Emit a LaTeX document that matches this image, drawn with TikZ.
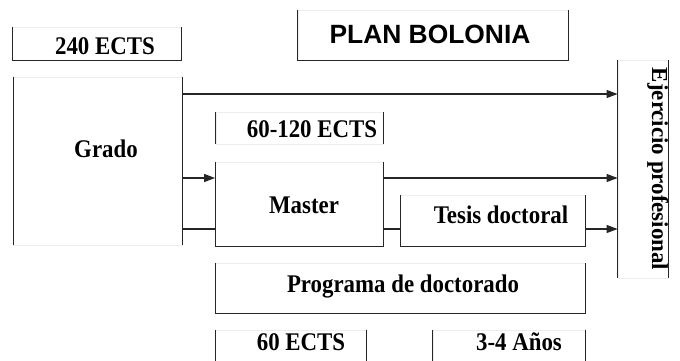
\documentclass[tikz,border=0pt]{standalone}
\usepackage{fontspec}
\setmainfont{Liberation Serif}
\newfontfamily\boxfont[FakeStretch=0.9]{Liberation Serif}
\newfontfamily\sidefont{Liberation Serif}
\newfontfamily\titlefont{Liberation Sans}
\usetikzlibrary{arrows.meta}
\tikzset{
  slot/.style={draw=black!7, line width=0.8bp, inner sep=0pt},
  side/.style={draw=black!85, line width=1.1bp},
  lbl/.style={font=\boxfont\bfseries\fontsize{25.5}{27}\selectfont, anchor=base, inner sep=0pt},
  flow/.style={draw=black!85, line width=1.1bp, -{Triangle[length=11bp,width=8bp]}},
  link/.style={draw=black!85, line width=1.1bp},
}
\begin{document}
\begin{tikzpicture}[x=1bp,y=-1bp]
  \useasboundingbox (0,0) rectangle (680,360);
  \clip (0,0) rectangle (680,360);
  % boxes
  \node[slot, minimum width=168.5bp, minimum height=33bp] (ects240) at (96.75,43.5) {};
  \node[slot, minimum width=270bp, minimum height=50bp] (plan) at (433,35) {};
  \node[slot, minimum width=168.5bp, minimum height=168bp] (grado) at (97.75,161) {};
  \node[slot, minimum width=167bp, minimum height=32bp] (ects60120) at (299.5,128) {};
  \node[slot, minimum width=167.5bp, minimum height=84.5bp] (master) at (299.25,204.25) {};
  \node[slot, minimum width=184.5bp, minimum height=50.8bp] (tesis) at (492.75,221.1) {};
  \node[slot, minimum width=50bp, minimum height=218bp] (ejercicio) at (643,169) {};
  \node[slot, minimum width=369.5bp, minimum height=50bp] (programa) at (400.25,288) {};
  \node[slot, minimum width=150.5bp, minimum height=40bp] (ects60) at (290.75,350) {};
  \node[slot, minimum width=152bp, minimum height=40bp] (anos) at (509,350) {};
  % open frames, left, bottom and right
  \foreach \b in {ects240,plan,master,tesis,programa}
    \draw[side] (\b.north west) -- (\b.south west) -- (\b.south east) -- (\b.north east);
  % side lines only
  \foreach \b in {grado,ects60120,ejercicio,ects60,anos}
    \draw[side] (\b.north west) -- (\b.south west) (\b.north east) -- (\b.south east);
  % labels
  \node[lbl] (ects240-t) at (105,54) {240 ECTS};
  \node[anchor=base, inner sep=0pt, font=\titlefont\bfseries\fontsize{26.5}{28}\selectfont] (plan-t) at (430,43) {PLAN BOLONIA};
  \node[lbl] (grado-t) at (106,157.3) {Grado};
  \node[lbl] (ects60120-t) at (312,137) {60-120 ECTS};
  \node[lbl] (master-t) at (304,213) {Master};
  \node[lbl] (tesis-t) at (501,223) {Tesis doctoral};
  \node[lbl] (programa-t) at (403,292) {Programa de doctorado};
  \node[lbl] (ects60-t) at (301,350) {60 ECTS};
  \node[lbl] (anos-t) at (519,350) {3-4 Años};
  \node[anchor=base, inner sep=0pt, rotate=-90, font=\sidefont\bfseries\fontsize{23}{25}\selectfont] (ejercicio-t) at (652,169) {Ejercicio profesional};
  % levels of the connectors
  \coordinate (lv1) at (0,94);
  \coordinate (lv2) at (0,178);
  \coordinate (lv3) at (0,229);
  % connectors
  \draw[flow] (grado.east |- lv1) -- (ejercicio.west |- lv1);
  \draw[flow] (grado.east |- lv2) -- (master.west |- lv2);
  \draw[link] (grado.east |- lv3) -- (master.west |- lv3);
  \draw[flow] (master.east |- lv2) -- (ejercicio.west |- lv2);
  \draw[link] (master.east |- lv3) -- (tesis.west |- lv3);
  \draw[flow] (tesis.east |- lv3) -- (ejercicio.west |- lv3);
\end{tikzpicture}
\end{document}
